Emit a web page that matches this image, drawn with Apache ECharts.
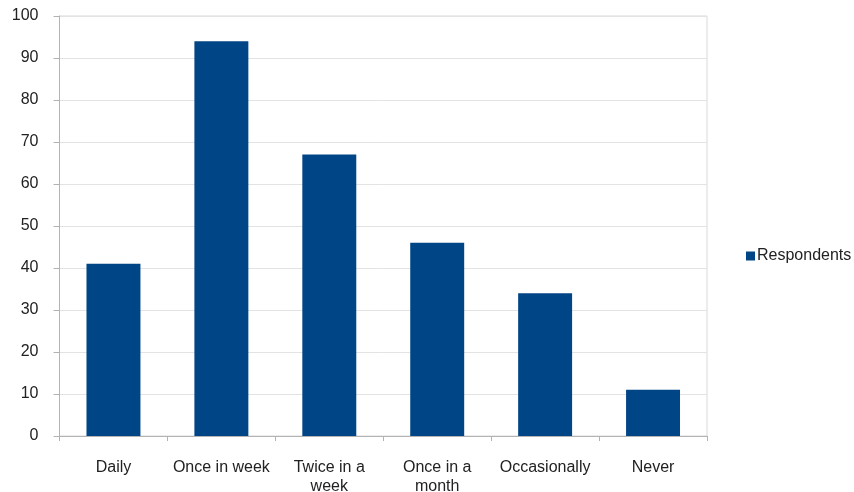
<!DOCTYPE html>
<html><head><meta charset="utf-8">
<script src="https://cdn.jsdelivr.net/npm/echarts@6/dist/echarts.min.js"></script>
<style>html,body{margin:0;padding:0;background:#fff}#c{width:854px;height:492px}</style>
</head><body><div id="c"></div>
<script>
const categories = ["Daily", "Once in week", "Twice in a\nweek", "Once in a\nmonth", "Occasionally", "Never"];
const respondents = [41, 94, 67, 46, 34, 11];
const yTicks = [0, 10, 20, 30, 40, 50, 60, 70, 80, 90, 100];

const chart = echarts.init(document.getElementById('c'), null, {renderer: 'canvas'});
const font = '"Liberation Sans", Arial, sans-serif';
chart.setOption({
  animation: false,
  backgroundColor: '#fff',
  grid: {left: 59.5, right: 147, top: 16, bottom: 56, show: true, borderColor: '#d9d9d9', borderWidth: 1,
         containLabel: false, outerBoundsMode: 'none'},
  legend: {
    orient: 'vertical', left: 746, top: 248, padding: 0,
    icon: 'rect', itemWidth: 9, itemHeight: 9, itemGap: 4,
    textStyle: {fontFamily: font, fontSize: 16, color: '#222', padding: [0,0,0,-3]},
    data: ['Respondents']
  },
  xAxis: {
    type: 'category', data: categories,
    axisLine: {lineStyle: {color: '#b3b3b3', width: 1}},
    axisTick: {show: true, length: 5, lineStyle: {color: '#b3b3b3'}},
    axisLabel: {fontFamily: font, fontSize: 16, color: '#222', margin: 22, lineHeight: 19, interval: 0},
    splitLine: {show: false}
  },
  yAxis: {
    type: 'value', min: yTicks[0], max: yTicks[yTicks.length-1], interval: 10,
    axisLine: {show: true, lineStyle: {color: '#b3b3b3', width: 1}},
    axisTick: {show: true, length: 6, lineStyle: {color: '#b3b3b3'}},
    axisLabel: {fontFamily: font, fontSize: 16, color: '#222', margin: 21},
    splitLine: {lineStyle: {color: '#e3e3e3', width: 1}}
  },
  series: [{
    name: 'Respondents', type: 'bar', data: respondents,
    barWidth: '50%',
    itemStyle: {color: '#004586'}
  }]
});
</script></body></html>
